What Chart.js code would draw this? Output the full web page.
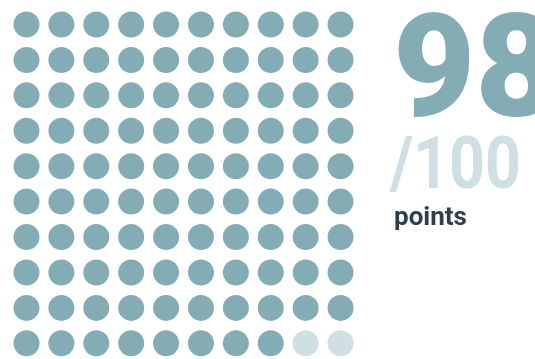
<!DOCTYPE html>
<html>
<head>
<meta charset="utf-8">
<script src="https://cdn.jsdelivr.net/npm/chart.js@4"></script>
<style>
  html, body { margin: 0; padding: 0; background: #fff; }
  #wrap { position: relative; width: 535px; height: 359px; overflow: hidden; }
  #chart { position: absolute; left: 0; top: 0; }
  .txt { position: absolute; font-family: Roboto, sans-serif; font-weight: 700; line-height: 1; white-space: nowrap; }
  #score { left: 393px; top: -3px; font-size: 142px; font-weight: 900; color: #84acb5; }
  #total { left: 390px; top: 127px; font-size: 73px; color: #cfdfe4; transform: scaleX(0.856); transform-origin: left top; }
  #unit { left: 394px; top: 203px; font-size: 26px; color: #2d3e4e; }
</style>
</head>
<body>
<div id="wrap">
  <canvas id="chart" width="535" height="359"></canvas>
  <div class="txt" id="score">98</div>
  <div class="txt" id="total">/100</div>
  <div class="txt" id="unit">points</div>
</div>
<script>
const score = 98;
const total = 100;
const columns = 10;
const filledColor = '#84acb5';
const emptyColor = '#cfdfe4';

// one dot per point, filled row by row from the top left
const dots = [];
const colors = [];
for (let i = 0; i < total; i++) {
    dots.push({ x: i % columns, y: Math.floor(i / columns) });
    colors.push(i < score ? filledColor : emptyColor);
}

const ctx = document.getElementById('chart').getContext('2d');
new Chart(ctx, {
    type: 'scatter',
    data: {
        datasets: [{
            data: dots,
            pointRadius: 13,
            pointHoverRadius: 13,
            pointBorderWidth: 0,
            pointBackgroundColor: colors,
            clip: false
        }]
    },
    options: {
        responsive: false,
        animation: false,
        events: [],
        layout: { autoPadding: false, padding: { left: 0, top: 0, right: 177, bottom: 0 } },
        plugins: { legend: { display: false }, tooltip: { enabled: false } },
        scales: {
            x: { display: false, min: -0.759, max: 9.5 },
            y: { display: false, reverse: true, min: -0.692, max: 9.443 }
        }
    }
});
</script>
</body>
</html>
